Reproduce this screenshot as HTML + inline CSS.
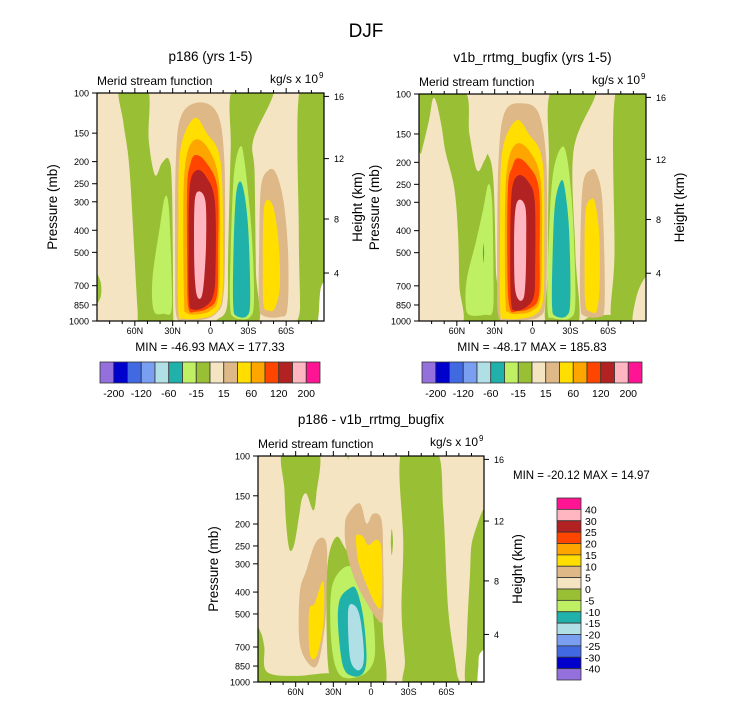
<!DOCTYPE html>
<html><head><meta charset="utf-8"><style>
html,body{margin:0;padding:0;background:#fff;}
svg{display:block;font-family:"Liberation Sans",Arial,sans-serif;}
</style></head><body>
<svg id="fig" width="732" height="707" viewBox="0 0 732 707" xmlns="http://www.w3.org/2000/svg">
<text x="366" y="37" text-anchor="middle" font-size="19">DJF</text>
</svg>
<script>
// ---------- data ----------
const pressureTicks = [100,150,200,250,300,400,500,700,850,1000];
const heightTicksKm = [16,12,8,4];
const heightTickP = [103.5,194,357,616];
const latMajor = [60,30,0,-30,-60];
const latMajorLabels = ["60N","30N","0","30S","60S"];
const latMinor = [80,70,50,40,20,10,-10,-20,-40,-50,-70,-80];
const cbTopColors = ["purple","mblue","rblue","cblue","pblue","teal","lgreen","green","wheat","tan","gold","orange","ored","fbrick","pink","dpink"];
const cbTopLabels = ["-200","-120","-60","-15","15","60","120","200"];
const cbDiffLabels = ["40","30","25","20","15","10","5","0","-5","-10","-15","-20","-25","-30","-40"];
const PAL = {purple:"#9370DB",mblue:"#0000CD",rblue:"#4169E1",cblue:"#7A9EF0",pblue:"#B0E0E6",teal:"#20B2AA",lgreen:"#BFEF62",green:"#99BF35",wheat:"#F5E4C2",tan:"#DEB887",gold:"#FFDE00",orange:"#FFA500",ored:"#FF4500",fbrick:"#B22222",pink:"#FFB6C1",dpink:"#FF1493",white:"#FFFFFF"};

// contours: [colour, [[lat, pressure], ...]]
const p1Contours = [
 ["green",[[72,95],[50,95],[49,160],[44,229],[38.5,203],[33,196],[30.5,266],[29.5,960],[29,1050],[56,1050],[58,868],[64,225],[69,136]]],
 ["lgreen",[[36,285],[33,320],[31,600],[31,900],[37,930],[45,900],[46,650],[40,380]]],
 ["green",[[91,620],[87,680],[87,780],[91,830]]],
 ["green",[[-18,95],[-16,178],[-14,500],[-13,868],[-5,990],[-2,1050],[-37,1050],[-36,600],[-35,225],[-34,160],[-50,95]]],
 ["lgreen",[[-23.5,172],[-18.5,230],[-16,500],[-15.5,850],[-19,965],[-31,965],[-34.5,800],[-32.5,400],[-27,200]]],
 ["teal",[[-23,245],[-20,290],[-18.2,500],[-18,850],[-20.5,950],[-29,950],[-31.5,800],[-30,400],[-26.5,270]]],
 ["green",[[-71,95],[-70,400],[-71,870],[-69,1050],[-95,1050],[-95,95]]],
 ["white",[[-86,1050],[-86,900],[-88,700],[-95,680],[-95,1050]]],
 ["tan",[[8,110],[-6,125],[-11,200],[-11.5,500],[-10,800],[-5,920],[5,985],[20,990],[27,950],[28,600],[27.5,200],[23,125]]],
 ["gold",[[13,129],[3,150],[-8,200],[-10,500],[-9,800],[-3,930],[8,975],[22,975],[25.5,900],[25.5,400],[24,180]]],
 ["orange",[[12,160],[2,175],[-6.5,240],[-7.5,500],[-6,800],[0,900],[10,935],[19,920],[21,800],[21.5,300],[19,190]]],
 ["ored",[[12,187],[4,200],[-5.5,260],[-6,500],[-5,780],[2,880],[12,910],[17.5,880],[18.5,600],[18.5,260],[16,205]]],
 ["fbrick",[[11,218],[3,235],[-3.5,300],[-4,600],[-2,780],[5,870],[14,890],[17,820],[17.4,500],[16.5,260]]],
 ["pink",[[9,270],[4,300],[3.5,450],[5,650],[7,780],[10,790],[12,700],[13,500],[12.5,300]]],
 ["tan",[[-46,218],[-40,260],[-38.5,500],[-38.5,850],[-42,950],[-55,960],[-61,880],[-61.5,500],[-58,300],[-52,225]]],
 ["gold",[[-45,294],[-42,340],[-41.5,600],[-42,850],[-46,900],[-51,880],[-55,700],[-54,450],[-50,320]]]
];
const p2Contours = [
 ["green",[[95,95],[55,95],[50,150],[44,217],[38,196],[35,186],[31,240],[29,600],[28.5,1050],[95,1050]]],
 ["wheat",[[91,210],[88,180],[82,130],[79,105],[76,110],[72,140],[69,180],[62,260],[59,420],[58,700],[57,1050],[95,1050]]],
 ["lgreen",[[35,250],[32,300],[31,600],[31.5,900],[38,940],[50,940],[53,850],[52,650],[45,450],[39,320]]],
 ["teal",[[38.8,455],[38.4,500],[38.8,555],[39.3,500]]],
 ["green",[[-15.4,95],[-13,200],[-12,600],[-11.4,1050],[-36,1050],[-34,500],[-32.6,177],[-50,95]]],
 ["lgreen",[[-23.3,171],[-16,230],[-12.5,500],[-12,900],[-16,970],[-30,970],[-34,800],[-32,350],[-28,200]]],
 ["teal",[[-23,240],[-18,300],[-16,500],[-15.5,850],[-18,950],[-27,950],[-30,800],[-29,400],[-26,270]]],
 ["green",[[-66.4,95],[-65,500],[-64,1050],[-95,1050],[-95,95]]],
 ["green",[[-40,1050],[-45,960],[-60,940],[-66,960],[-66,1050]]],
 ["wheat",[[-80,1050],[-82,800],[-88,660],[-95,630],[-95,1050]]],
 ["tan",[[8,110],[-5,122],[-11,200],[-11.5,500],[-10,850],[-5,960],[5,990],[20,990],[27,950],[28,600],[27,200],[22,120]]],
 ["gold",[[13,131],[3,150],[-8,200],[-9.3,500],[-8.5,800],[-3,930],[8,975],[22,975],[25.5,900],[25.7,400],[24,180]]],
 ["orange",[[12,165],[2,180],[-6.5,240],[-7.4,500],[-6,800],[0,900],[10,930],[19,915],[21.5,800],[21.7,300],[19,195]]],
 ["ored",[[12,192],[4,205],[-5,260],[-5.6,500],[-5,780],[2,880],[12,905],[18,880],[19.9,600],[19.5,260],[16,210]]],
 ["fbrick",[[11,228],[3,245],[-1.8,300],[-2.1,600],[-1,780],[5,870],[14,900],[17,820],[17.7,500],[16.5,270]]],
 ["pink",[[10,292],[5.5,320],[5,450],[5.5,650],[7,790],[11,805],[14,700],[14.6,450],[13.5,320]]],
 ["tan",[[-47,215],[-40,250],[-37.8,500],[-38,850],[-41,950],[-53,960],[-57,880],[-56.9,500],[-55,280],[-51,225]]],
 ["gold",[[-47,289],[-42,330],[-41.3,600],[-42,850],[-46,910],[-51,900],[-53.2,700],[-53,420],[-50,310]]]
];
const p3Contours = [
 ["green",[[70,95],[42,95],[43.5,147],[46,174],[51.4,147],[55,155],[57,180],[61,244],[64.7,261],[67.4,206],[69,140]]],
 ["green",[[18.8,97],[17.6,97],[18.2,104]]],
 ["green",[[95,540],[88,600],[85,700],[83,900],[60,940],[35,915],[17,945],[10,1050],[95,1050]]],
 ["green",[[27.5,228],[19.5,261],[3.6,342],[-7,419],[-9.7,629],[-11,1050],[11.6,1050],[20,960],[32.8,944],[35.5,483],[34.2,289]]],
 ["lgreen",[[22.2,314],[11.6,319],[0.9,419],[-3,629],[-1.7,824],[8.9,944],[24.9,928],[31.5,673],[31.5,391]]],
 ["teal",[[16.9,385],[11.6,391],[6.2,513],[3.6,771],[6.2,912],[14.2,944],[22.2,853],[26.2,568],[24.9,433]]],
 ["pblue",[[13.7,456],[8.9,513],[5.7,720],[6.8,853],[11.6,883],[16.9,771],[18.2,483]]],
 ["tan",[[43.5,239],[35.5,244],[35.5,405],[36.8,568],[42.1,824],[48.8,839],[56.8,673],[56.8,405],[51.4,319]]],
 ["gold",[[39.5,366],[37.4,378],[38.2,568],[43.5,771],[48.8,745],[49.3,483],[44.8,448]]],
 ["tan",[[18.2,180],[8.9,162],[3.6,199],[-1.7,180],[-8.4,192],[-9.7,289],[-9.7,513],[-4.4,522],[11.6,366],[19.5,261],[20.9,206]]],
 ["gold",[[11.6,224],[6.2,228],[2.3,248],[-4.4,235],[-8.4,261],[-8.4,448],[-3.1,448],[8.9,309],[11.6,253]]],
 ["green",[[-16.5,210],[-15.8,240],[-16.5,275],[-17.5,240]]],
 ["green",[[-24.3,95],[-25.7,244],[-24.3,483],[-27,800],[-28.3,1050],[-69,1050],[-68.2,900],[-61.6,483],[-57.6,174],[-52.3,95]]],
 ["green",[[-95,180],[-81.5,228],[-78.8,342],[-76.2,673],[-76.2,1050],[-95,1050]]],
 ["white",[[-85.5,1050],[-85.5,850],[-87,745],[-95,720],[-95,1050]]]
];

// ---------- drawing ----------
const NS = "http://www.w3.org/2000/svg";
const svg = document.getElementById("fig");
function mk(tag, attrs, parent){
  const e = document.createElementNS(NS, tag);
  for (const k in attrs) e.setAttribute(k, attrs[k]);
  (parent||svg).appendChild(e);
  return e;
}
function txt(str, x, y, size, anchor, parent){
  const t = mk("text", {x:x, y:y, "font-size":size, "text-anchor":anchor||"start"}, parent);
  t.textContent = str;
  return t;
}
function smooth(pts){
  const n = pts.length;
  let d = "M" + pts[0][0].toFixed(1) + "," + pts[0][1].toFixed(1);
  for (let i=0;i<n;i++){
    const p0=pts[(i-1+n)%n], p1=pts[i], p2=pts[(i+1)%n], p3=pts[(i+2)%n];
    const c1=[p1[0]+(p2[0]-p0[0])/6, p1[1]+(p2[1]-p0[1])/6];
    const c2=[p2[0]-(p3[0]-p1[0])/6, p2[1]-(p3[1]-p1[1])/6];
    d += "C"+c1[0].toFixed(1)+","+c1[1].toFixed(1)+" "+c2[0].toFixed(1)+","+c2[1].toFixed(1)+" "+p2[0].toFixed(1)+","+p2[1].toFixed(1);
  }
  return d+"Z";
}

function drawPanel(id, cfg){
  const {x0,y0,w,h,contours} = cfg;
  const xS = lat => x0 + (90-lat)/180*w;
  const yS = p => y0 + Math.log10(p/100)*h;
  const g = mk("g", {});
  
  
  const cp = mk("clipPath", {id:id+"-clip"}, g);
  mk("rect", {x:x0,y:y0,width:w,height:h}, cp);
  const bg = mk("rect", {x:x0,y:y0,width:w,height:h,fill:PAL.wheat}, g);
  
  
  const cg = mk("g", {"clip-path":"url(#"+id+"-clip)"}, g);
  contours.forEach((c,i)=>{
    const pts = c[1].map(q=>[xS(q[0]), yS(q[1])]);
    const path = mk("path", {d:smooth(pts), fill:PAL[c[0]]}, cg);
    
    
  });
  const frame = mk("rect", {x:x0,y:y0,width:w,height:h,fill:"none",stroke:"#000","stroke-width":1.2}, g);
  
  
  latMajor.forEach((lat,i)=>{
    const x = xS(lat);
    mk("line",{x1:x,x2:x,y1:y0+h,y2:y0+h+5,stroke:"#000"},g);
    mk("line",{x1:x,x2:x,y1:y0,y2:y0-5,stroke:"#000"},g);
    const t = txt(latMajorLabels[i], x, y0+h+13, 9, "middle", g);
    
    
  });
  latMinor.forEach(lat=>{
    const x = xS(lat);
    mk("line",{x1:x,x2:x,y1:y0+h,y2:y0+h+3,stroke:"#000"},g);
    mk("line",{x1:x,x2:x,y1:y0,y2:y0-3,stroke:"#000"},g);
  });
  pressureTicks.forEach(p=>{
    const y = yS(p);
    mk("line",{x1:x0,x2:x0-5,y1:y,y2:y,stroke:"#000"},g);
    const t = txt(String(p), x0-8, y+3.5, 9, "end", g);
    
    
  });
  heightTicksKm.forEach((km,i)=>{
    const y = yS(heightTickP[i]);
    mk("line",{x1:x0+w,x2:x0+w+5,y1:y,y2:y,stroke:"#000"},g);
    const t = txt(String(km), x0+w+10, y+3.5, 9, "start", g);
    
    
  });
  const tt = txt(cfg.title, x0+w/2, y0-32, 13.5, "middle", g);
  
  
  const ms = txt("Merid stream function", x0, y0-8, 12, "start", g);
  
  
  const un = txt("kg/s x 10", x0+w-6, y0-10, 12, "end", g);
  
  
  txt("9", x0+w-5, y0-15, 8, "start", g);
  const yl = txt("Pressure (mb)", 0, 0, 13.5, "middle", g);
  yl.setAttribute("transform","translate("+(x0-40)+","+(y0+h/2)+") rotate(-90)");
  
  
  const hl = txt("Height (km)", 0, 0, 13.5, "middle", g);
  hl.setAttribute("transform","translate("+(x0+w+38)+","+(y0+h/2)+") rotate(-90)");
  
  
  return g;
}

function hColorbar(id, x, y, w, h){
  const g = mk("g",{});
  
  
  const bw = w/cbTopColors.length;
  cbTopColors.forEach((c,i)=>{
    const r = mk("rect",{x:x+i*bw,y:y,width:bw,height:h,fill:PAL[c],stroke:"#333","stroke-width":0.8},g);
    
    
  });
  cbTopLabels.forEach((l,i)=>{
    const t = txt(l, x+(2*i+1)*bw, y+h+14, 10.5, "middle", g);
    
    
  });
}

const g1 = drawPanel("p186", {x0:97,y0:93,w:227,h:228,title:"p186 (yrs 1-5)",contours:p1Contours});
const mm1 = txt("MIN = -46.93  MAX = 177.33", 210, 351, 12, "middle");


hColorbar("p186-colorbar", 100, 362, 220, 21);

const g2 = drawPanel("v1b", {x0:419,y0:94,w:227,h:227,title:"v1b_rrtmg_bugfix (yrs 1-5)",contours:p2Contours});
const mm2 = txt("MIN = -48.17  MAX = 185.83", 532, 351, 12, "middle");


hColorbar("v1b-colorbar", 422, 362, 220, 21);

const g3 = drawPanel("diff", {x0:258,y0:456,w:226,h:226,title:"p186 - v1b_rrtmg_bugfix",contours:p3Contours});
const mm3 = txt("MIN = -20.12  MAX =  14.97", 513, 479, 11.5, "start");



(function(){
  const x=557, y=498, w=24, h=182;
  const cols = cbTopColors.slice().reverse();
  const bh = h/cols.length;
  const g = mk("g",{});
  
  
  cols.forEach((c,i)=>{
    const r = mk("rect",{x:x,y:y+i*bh,width:w,height:bh,fill:PAL[c],stroke:"#333","stroke-width":0.8},g);
    
    
  });
  cbDiffLabels.forEach((l,i)=>{
    const t = txt(l, x+w+4, y+(i+1)*bh+4, 10.5, "start", g);
    
    
  });
})();
</script>
</body></html>
